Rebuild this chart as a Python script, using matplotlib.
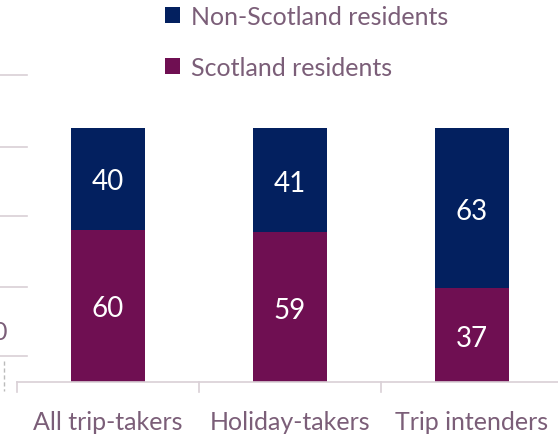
import matplotlib
matplotlib.use("Agg")
import matplotlib.pyplot as plt
import numpy as np

categories = ["All trip-takers", "Holiday-takers", "Trip intenders"]
scotland = [60, 59, 37]
non_scotland = [40, 41, 63]

navy = "#03205f"
purple = "#6f0f52"
text_col = "#7b5e78"
line_col = "#d9d0d6"

plt.rcParams['font.family'] = ['Lato', 'DejaVu Sans']

fig = plt.figure(figsize=(5.58, 4.35), dpi=100)
ax = fig.add_axes([17/558, 52/435, 546/558, 254/435])

x = np.arange(len(categories))
ax.bar(x, scotland, width=74/182, color=purple, label="Scotland residents")
ax.bar(x, non_scotland, width=74/182, bottom=scotland, color=navy, label="Non-Scotland residents")

for i in range(len(categories)):
    ax.text(x[i], scotland[i] / 2, str(scotland[i]), ha="center", va="center_baseline", color="white", fontsize=20)
    ax.text(x[i], scotland[i] + non_scotland[i] / 2, str(non_scotland[i]), ha="center", va="center_baseline", color="white", fontsize=20)

ax.set_xlim(-0.5, 2.5)
ax.set_ylim(0, 100)
ax.set_yticks([])
ax.set_xticks(x)
ax.set_xticklabels(categories, fontsize=18, color=text_col)
ax.tick_params(axis="x", length=0, pad=20)
# tick marks between categories
for b in [-0.5, 0.5, 1.5]:
    ax.plot([b, b], [0, -4], color=line_col, lw=1.2, clip_on=False)
for s in ["top", "right", "left"]:
    ax.spines[s].set_visible(False)
ax.spines["bottom"].set_color(line_col)
ax.spines["bottom"].set_linewidth(1.2)

# legend
handles, labels = ax.get_legend_handles_labels()
leg = fig.legend(handles[::-1], labels[::-1], loc="upper left", bbox_to_anchor=(165/558, 1 - 6/435),
                 frameon=False, fontsize=18, labelcolor=text_col, handlelength=0.6, handleheight=0.6,
                 handletextpad=0.45, labelspacing=1.12, borderpad=0, borderaxespad=0)

# cropped remnants of a neighbouring chart at the left edge
for yy in [76, 148, 217, 288, 357]:
    fig.add_artist(plt.Line2D([0, 27/558], [1 - yy/435, 1 - yy/435], color=line_col, lw=1.2))
fig.add_artist(plt.Line2D([4/558, 4/558], [1 - 362/435, 1 - 392/435], color="#bbbbbb", lw=1, ls=(0, (3, 2))))
fig.text(-8/558, 1 - 332/435, "0", fontsize=18, color=text_col, va="center")

fig.savefig("out.png", dpi=100)
